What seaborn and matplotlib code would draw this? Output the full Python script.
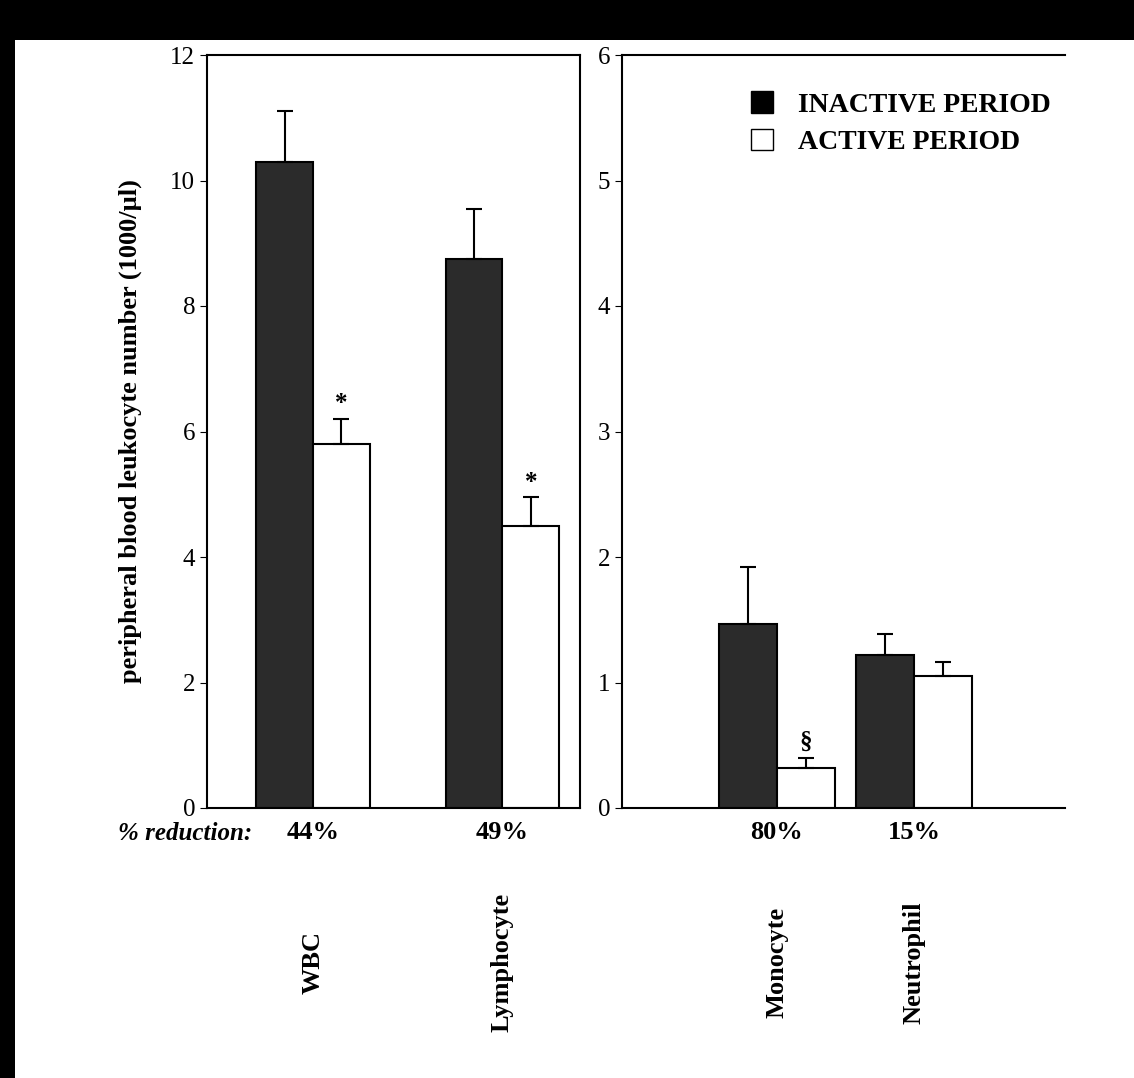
import seaborn as sns
import matplotlib.pyplot as plt
import pandas as pd
from matplotlib.patches import Patch, Rectangle

periods = ["INACTIVE PERIOD", "ACTIVE PERIOD"]
left_cells = ["WBC", "Lymphocyte"]
left_inactive = [10.3, 8.75]
left_active = [5.8, 4.5]
left_inactive_err = [0.8, 0.8]
left_active_err = [0.4, 0.45]
right_cells = ["Monocyte", "Neutrophil"]
right_inactive = [1.47, 1.22]
right_active = [0.32, 1.05]
right_inactive_err = [0.45, 0.17]
right_active_err = [0.08, 0.11]
reductions_left = ["44%", "49%"]
reductions_right = ["80%", "15%"]
marks_left = ["*", "*"]
marks_right = ["§", ""]

sns.set_style("ticks")
plt.rcParams["font.family"] = ["Liberation Serif", "DejaVu Serif"]
plt.rcParams["font.weight"] = "bold"
for k in ["text.color", "axes.labelcolor", "xtick.color", "ytick.color", "axes.edgecolor"]:
    plt.rcParams[k] = "black"

fig = plt.figure(figsize=(11.34, 10.78), dpi=100, facecolor="white")
W, H = 1134, 1078
# black scan border
fig.patches.append(Rectangle((0, 1 - 40 / H), 1, 40 / H, transform=fig.transFigure,
                             facecolor="black", edgecolor="none"))
fig.patches.append(Rectangle((0, 0), 15 / W, 1, transform=fig.transFigure,
                             facecolor="black", edgecolor="none"))

def ax_at(x0, x1, y0, y1):
    return fig.add_axes([x0 / W, 1 - y1 / H, (x1 - x0) / W, (y1 - y0) / H])

colors = ["#2b2b2b", "white"]

def panel(ax, cells, inact, act, ierr, aerr, width, marks, ymax, step):
    df = pd.DataFrame({"cell": cells * 2, "period": [periods[0]] * 2 + [periods[1]] * 2,
                       "value": inact + act})
    sns.barplot(data=df, x="cell", y="value", hue="period", palette=colors, width=width,
                edgecolor="black", linewidth=1.5, errorbar=None, legend=False, ax=ax)
    errs = ierr + aerr
    vals = inact + act
    for p, v, e in zip(ax.patches, vals, errs):
        cx = p.get_x() + p.get_width() / 2
        ax.errorbar([cx], [v], yerr=[[0], [e]], fmt="none", ecolor="black",
                    elinewidth=1.5, capsize=6, capthick=1.5)
    for p, v, e, m in zip(ax.patches[2:4], act, aerr, marks):
        cx = p.get_x() + p.get_width() / 2
        ax.text(cx, v + e + ymax * 0.005, m, ha="center", va="bottom", fontsize=18)
    ax.set_ylim(0, ymax)
    ax.set_yticks(range(0, ymax + 1, step))
    ax.set_xticks([])
    ax.set_xlabel("")
    ax.set_ylabel("")
    ax.tick_params(axis="y", labelsize=18, length=5)
    for lab in ax.get_yticklabels():
        lab.set_fontweight("normal")
    for s in ax.spines.values():
        s.set_linewidth(1.5)

ax1 = ax_at(207, 580, 55, 808)
panel(ax1, left_cells, left_inactive, left_active, left_inactive_err, left_active_err,
      0.6, marks_left, 12, 2)
ax1.set_xlim(-0.56, 1.41)
ax1.set_ylabel("peripheral blood leukocyte number (1000/µl)", fontsize=19, fontweight="bold",
               labelpad=20)

ax2 = ax_at(622, 1065, 55, 808)
panel(ax2, right_cells, right_inactive, right_active, right_inactive_err, right_active_err,
      0.85, marks_right, 6, 1)
ax2.set_xlim(-1.13, 2.10)
ax2.spines["right"].set_visible(False)

for ax, cells, reds in [(ax1, left_cells, reductions_left), (ax2, right_cells, reductions_right)]:
    for i, (c, r) in enumerate(zip(cells, reds)):
        ax.text(i, -0.033, r, transform=ax.get_xaxis_transform(), ha="center", va="center",
                fontsize=19)
        ax.text(i, -0.205, c, transform=ax.get_xaxis_transform(), ha="center", va="center",
                rotation=90, fontsize=19)
fig.text(118 / W, 1 - 833 / H, "% reduction:", ha="left", va="center", fontsize=18,
         style="italic")

handles = [Patch(facecolor="black", edgecolor="black"), Patch(facecolor="white", edgecolor="black")]
ax2.legend(handles, periods, loc="upper left", bbox_to_anchor=(0.235, 0.985), frameon=False,
           fontsize=20, handlelength=0.8, handleheight=0.8, labelspacing=0.4, handletextpad=0.9)

fig.savefig("out.png", dpi=100, facecolor=fig.get_facecolor())
